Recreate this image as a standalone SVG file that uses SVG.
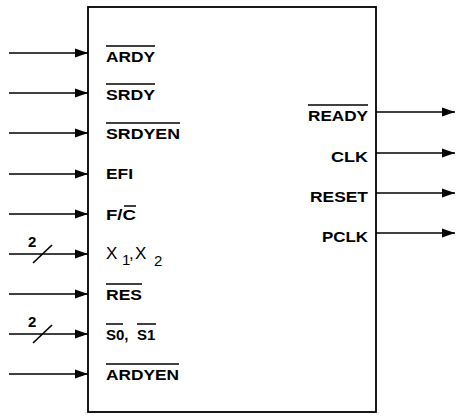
<svg xmlns="http://www.w3.org/2000/svg" width="457" height="416" viewBox="0 0 457 416">
<defs>
<marker id="ah" markerWidth="13" markerHeight="10" refX="13" refY="5" orient="auto" markerUnits="userSpaceOnUse">
<path d="M0,0.5 L13,5 L0,9.5 Z" fill="#000"/>
</marker>
</defs>
<style>
.t{font-family:"Liberation Sans",Arial,sans-serif;font-size:15px;font-weight:bold;fill:#000}
.s{font-family:"Liberation Sans",Arial,sans-serif;font-size:15px;font-weight:bold;fill:#000}
.w{stroke:#000;stroke-width:1.7;fill:none}
.ob{stroke:#000;stroke-width:1.5}
</style>
<rect id="box" x="88" y="7" width="288" height="405" fill="#fff" stroke="#000" stroke-width="1.8"/>
<g id="connectors">
<line class="w" x1="9" y1="53" x2="88" y2="53" marker-end="url(#ah)"/>
<line class="w" x1="9" y1="93" x2="88" y2="93" marker-end="url(#ah)"/>
<line class="w" x1="9" y1="133" x2="88" y2="133" marker-end="url(#ah)"/>
<line class="w" x1="9" y1="174" x2="88" y2="174" marker-end="url(#ah)"/>
<line class="w" x1="9" y1="214" x2="88" y2="214" marker-end="url(#ah)"/>
<line class="w" x1="9" y1="254" x2="88" y2="254" marker-end="url(#ah)"/>
<line class="w" x1="9" y1="294" x2="88" y2="294" marker-end="url(#ah)"/>
<line class="w" x1="9" y1="334" x2="88" y2="334" marker-end="url(#ah)"/>
<line class="w" x1="9" y1="374" x2="88" y2="374" marker-end="url(#ah)"/>
<line class="w" x1="376" y1="112" x2="455" y2="112" marker-end="url(#ah)"/>
<line class="w" x1="376" y1="153" x2="455" y2="153" marker-end="url(#ah)"/>
<line class="w" x1="376" y1="193" x2="455" y2="193" marker-end="url(#ah)"/>
<line class="w" x1="376" y1="233" x2="455" y2="233" marker-end="url(#ah)"/>
<line class="w" x1="33" y1="263" x2="52" y2="245"/>
<line class="w" x1="33" y1="343" x2="52" y2="325"/>
<text class="t" x="28" y="247">2</text>
<text class="t" x="28" y="327">2</text>
</g>
<g id="in-ardy"><text class="t" x="106" y="62" textLength="49" lengthAdjust="spacingAndGlyphs">ARDY</text><line class="ob" x1="106" y1="46" x2="155" y2="46"/></g>
<g id="in-srdy"><text class="t" x="106" y="100" textLength="49" lengthAdjust="spacingAndGlyphs">SRDY</text><line class="ob" x1="106" y1="84" x2="155" y2="84"/></g>
<g id="in-srdyen"><text class="t" x="106" y="139" textLength="74" lengthAdjust="spacingAndGlyphs">SRDYEN</text><line class="ob" x1="106" y1="123" x2="180" y2="123"/></g>
<g id="in-efi"><text class="t" x="106" y="179" textLength="27" lengthAdjust="spacingAndGlyphs">EFI</text></g>
<g id="in-fc"><text class="t" x="106" y="220" textLength="30" lengthAdjust="spacingAndGlyphs">F/C</text><line class="ob" x1="124" y1="206" x2="136" y2="206"/></g>
<g id="in-x"><text class="t" y="259" style="font-weight:normal;font-size:17px"><tspan x="106">X</tspan><tspan class="s" style="font-weight:normal" x="122" y="265">1</tspan><tspan x="129" y="259">,</tspan><tspan x="135">X</tspan><tspan class="s" style="font-weight:normal" x="154" y="266">2</tspan></text></g>
<g id="in-res"><text class="t" x="106" y="300" textLength="36" lengthAdjust="spacingAndGlyphs">RES</text><line class="ob" x1="106" y1="284" x2="142" y2="284"/></g>
<g id="in-s"><text class="t" y="340"><tspan x="106">S0,</tspan><tspan x="137">S1</tspan></text><line class="ob" x1="106" y1="324" x2="123" y2="324"/><line class="ob" x1="137" y1="324" x2="156" y2="324"/></g>
<g id="in-ardyen"><text class="t" x="106" y="380" textLength="73" lengthAdjust="spacingAndGlyphs">ARDYEN</text><line class="ob" x1="106" y1="364" x2="179" y2="364"/></g>
<g id="out-ready"><text class="t" x="368" y="121" text-anchor="end" textLength="60" lengthAdjust="spacingAndGlyphs">READY</text><line class="ob" x1="308" y1="105" x2="368" y2="105"/></g>
<g id="out-clk"><text class="t" x="368" y="162" text-anchor="end" textLength="37" lengthAdjust="spacingAndGlyphs">CLK</text></g>
<g id="out-reset"><text class="t" x="368" y="202" text-anchor="end" textLength="58" lengthAdjust="spacingAndGlyphs">RESET</text></g>
<g id="out-pclk"><text class="t" x="368" y="242" text-anchor="end" textLength="46" lengthAdjust="spacingAndGlyphs">PCLK</text></g>
</svg>
